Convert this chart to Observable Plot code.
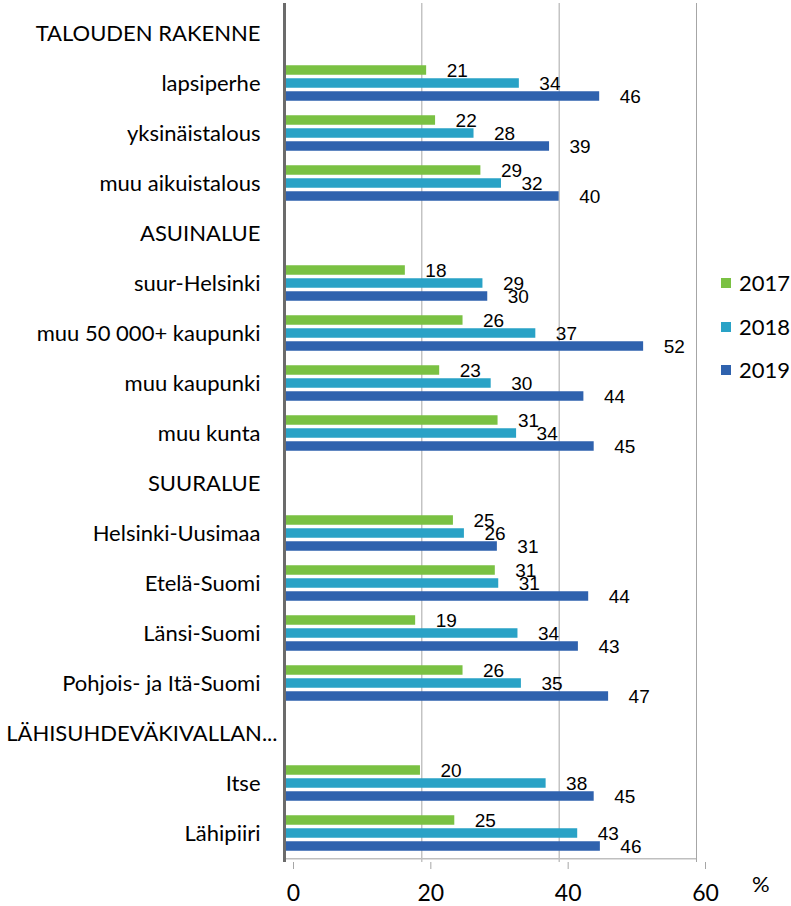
<!DOCTYPE html>
<html>
<head>
<meta charset="utf-8">
<script src="https://cdn.jsdelivr.net/npm/d3@7"></script>
<script src="https://cdn.jsdelivr.net/npm/@observablehq/plot@0.6"></script>
<style>
  html, body { margin: 0; padding: 0; background: #fff; }
  #wrap { position: relative; width: 791px; height: 906px; font-family: Lato, "Open Sans", sans-serif; }
  .leg { position: absolute; left: 721px; font-size: 22px; color: #000; display: flex; align-items: center; }
  .leg span.sw { display: inline-block; width: 10px; height: 10px; margin-right: 8px; }
  #pct { position: absolute; left: 752px; top: 870px; font-size: 22px; }
</style>
</head>
<body>
<div id="wrap"></div>
<script>
// Rows on the category axis, top to bottom (section headers included)
const rows = [
  "TALOUDEN RAKENNE", "lapsiperhe", "yksinäistalous", "muu aikuistalous",
  "ASUINALUE", "suur-Helsinki", "muu 50 000+ kaupunki", "muu kaupunki", "muu kunta",
  "SUURALUE", "Helsinki-Uusimaa", "Etelä-Suomi", "Länsi-Suomi", "Pohjois- ja Itä-Suomi",
  "LÄHISUHDEVÄKIVALLAN...", "Itse", "Lähipiiri"
];
const longLabel = "LÄHISUHDEVÄKIVALLAN...";
// Categories that carry bars
const groups = [
  "lapsiperhe", "yksinäistalous", "muu aikuistalous",
  "suur-Helsinki", "muu 50 000+ kaupunki", "muu kaupunki", "muu kunta",
  "Helsinki-Uusimaa", "Etelä-Suomi", "Länsi-Suomi", "Pohjois- ja Itä-Suomi",
  "Itse", "Lähipiiri"
];
const years = ["2017", "2018", "2019"];
const v2017 = [20.7, 22.0, 28.6, 17.6, 26.0, 22.6, 31.1, 24.6, 30.7, 19.1, 26.0, 19.8, 24.8];
const v2018 = [34.2, 27.6, 31.6, 28.9, 36.6, 30.1, 33.8, 26.2, 31.2, 34.0, 34.5, 38.1, 42.7];
const v2019 = [45.9, 38.6, 40.0, 29.6, 52.3, 43.6, 45.1, 31.0, 44.3, 42.8, 47.2, 45.1, 46.0];
const colors = ["#7ac143", "#29a2c6", "#2f62ae"];
const xTicks = [0, 20, 40, 60];

const series = [v2017, v2018, v2019];
const data = [];
years.forEach((yr, i) => groups.forEach((g, j) => data.push({cat: g, year: yr, value: series[i][j]})));
const offsets = {"2017": -13, "2018": 0, "2019": 13};

const marks = [
  Plot.ruleX(xTicks.slice(1), {stroke: "#a6a6a6", strokeWidth: 1}),
  Plot.ruleY([rows[rows.length - 1]], {x1: 0, x2: 60, dy: 25.25, stroke: "#bfbfbf", strokeWidth: 1.3}),
  Plot.axisX({ticks: xTicks, tickSize: 7, tickPadding: 15, stroke: "#a6a6a6", fontSize: 23, dx: 9, label: null, tickFormat: d => String(d)}),
  Plot.axisY({ticks: [], label: null}),
];
years.forEach(yr => {
  const d = data.filter(r => r.year === yr);
  marks.push(Plot.barX(d, {x: "value", y: "cat", fill: "year", insetTop: 20.25, insetBottom: 20.25, dy: offsets[yr]}));
  marks.push(Plot.text(d, {x: "value", y: "cat", text: r => String(Math.round(r.value)), dy: offsets[yr], dx: 20, textAnchor: "start", fontSize: 19, fontFamily: "Liberation Sans, Arial, sans-serif", fill: "#000"}));
});
marks.push(Plot.ruleX([0], {stroke: "#6b6b6b", strokeWidth: 3}));
marks.push(Plot.text(rows.filter(r => r !== longLabel), {y: d => d, text: d => d, frameAnchor: "left", textAnchor: "end", dx: -24, fontSize: 22, fill: "#000"}));
marks.push(Plot.text([longLabel], {y: d => d, text: d => d, frameAnchor: "left", textAnchor: "end", dx: -7, fontSize: 22, fill: "#000"}));

const chart = Plot.plot({
  width: 791,
  height: 906,
  marginLeft: 284,
  marginRight: 95,
  marginTop: 3,
  marginBottom: 44,
  style: {fontFamily: "Lato, 'Open Sans', sans-serif", background: "#fff"},
  x: {domain: [0, 60], axis: null},
  y: {domain: rows, padding: 0, axis: null},
  color: {domain: years, range: colors},
  marks
});

const wrap = document.getElementById("wrap");
wrap.appendChild(chart);
const legTops = [283, 327, 370];
years.forEach((yr, i) => {
  const el = document.createElement("div");
  el.className = "leg";
  el.style.top = (legTops[i] - 14) + "px";
  el.innerHTML = `<span class="sw" style="background:${colors[i]}"></span>${yr}`;
  wrap.appendChild(el);
});
const pct = document.createElement("div");
pct.id = "pct";
pct.textContent = "%";
wrap.appendChild(pct);
</script>
</body>
</html>
